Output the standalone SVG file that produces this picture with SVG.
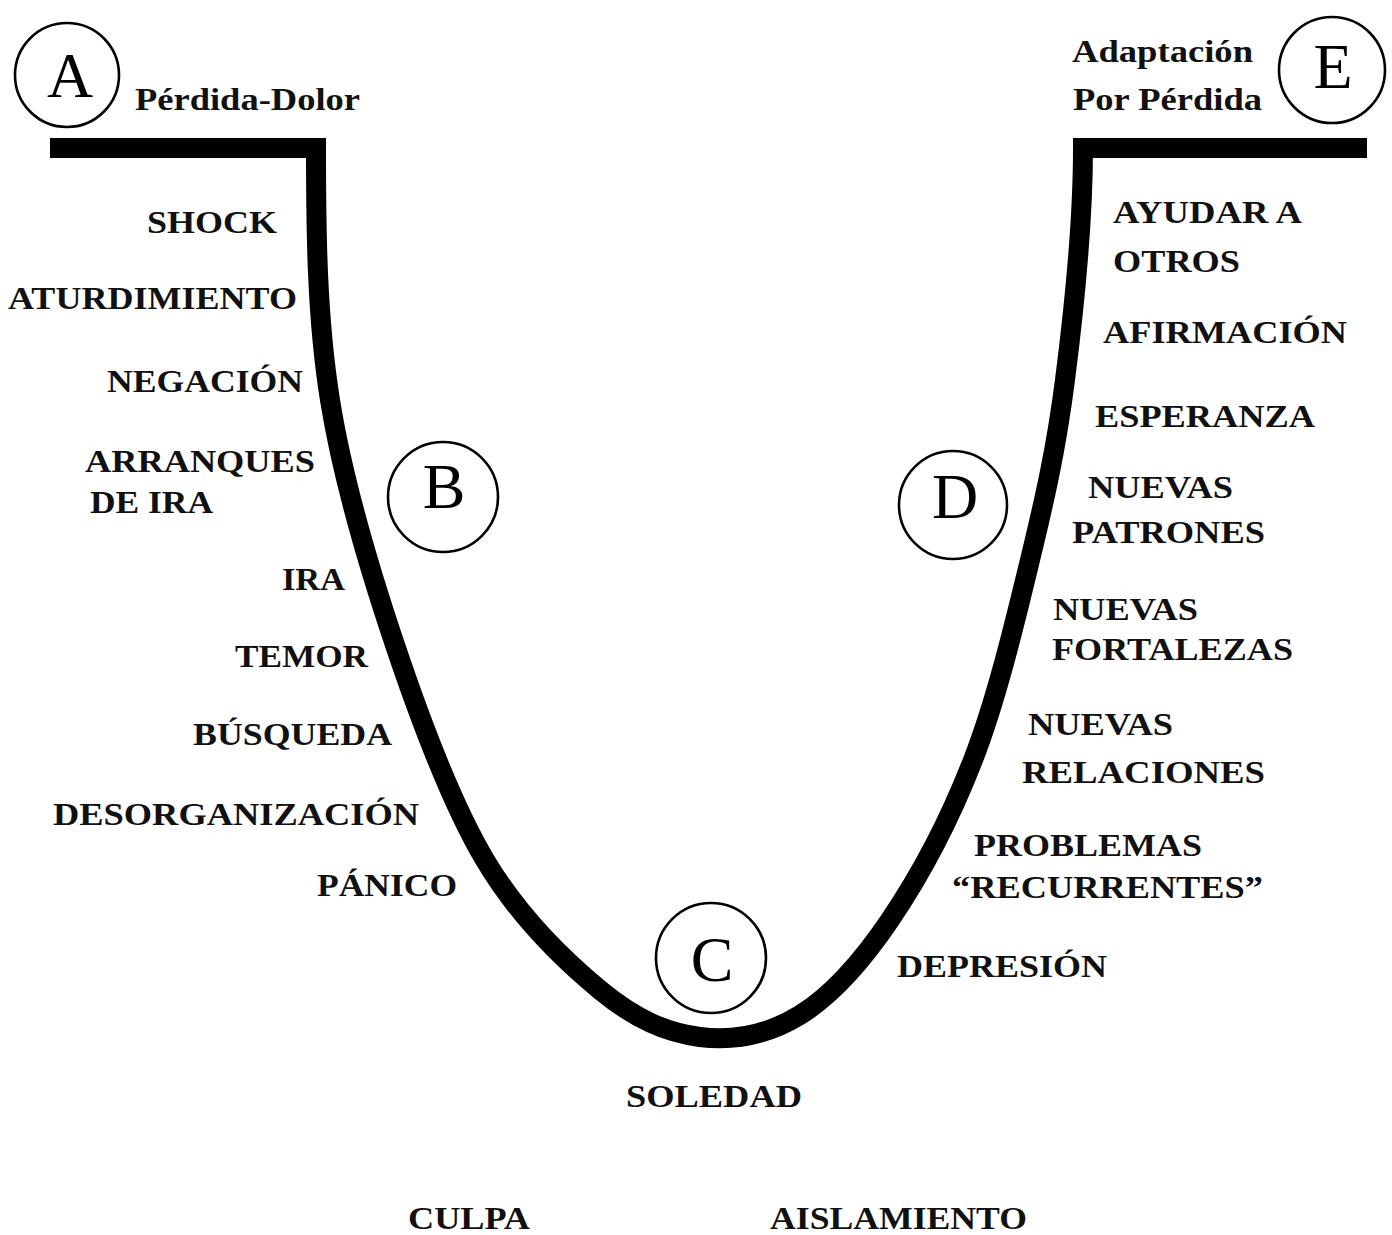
<svg xmlns="http://www.w3.org/2000/svg" width="1392" height="1235" viewBox="0 0 1392 1235">
<style>
.bg{fill:#fff}
.curve{fill:none;stroke:#000;stroke-width:20;stroke-linejoin:miter;stroke-linecap:butt}
.ring{fill:#fff;stroke:#000;stroke-width:2.6}
.letter{font-family:"Liberation Serif","Times New Roman",serif;font-size:64px;fill:#000;text-anchor:middle}
.lbl{font-family:"Liberation Serif","Times New Roman",serif;font-weight:bold;font-size:31px;fill:#111}
.sub{font-family:"Liberation Serif","Times New Roman",serif;font-weight:bold;font-size:32px;fill:#111}
</style>
<rect class="bg" x="0" y="0" width="1392" height="1235"/>
<g id="connectors">
<path class="curve" d="M50,148 H316 V148 C316,231.3 316.8,317.2 330,400 C343.2,482.8 369.2,568.3 395,645 C420.8,721.7 450.8,802.5 485,860 C519.2,917.5 564.2,960.5 600,990 C635.8,1019.5 666.7,1032.8 700,1037 C733.3,1041.2 768.3,1034.5 800,1015 C831.7,995.5 861.2,962.5 890,920 C918.8,877.5 949.7,820 973,760 C996.3,700 1014.7,623.3 1030,560 C1045.3,496.7 1056.2,448.7 1065,380 C1073.8,311.3 1083,225.3 1083,148 H1367"/>
</g>
<g id="node-A">
<circle class="ring" cx="67" cy="75" r="52"/>
<text class="letter" x="70" y="97" font-size="66">A</text>
<text class="sub" x="135" y="110" textLength="225" lengthAdjust="spacingAndGlyphs">Pérdida-Dolor</text>
</g>
<g id="node-E">
<circle class="ring" cx="1332" cy="70" r="53"/>
<text class="letter" x="1333" y="88" font-size="68">E</text>
<text class="sub" x="1072" y="62" textLength="181" lengthAdjust="spacingAndGlyphs">Adaptación</text>
<text class="sub" x="1073" y="110" textLength="189" lengthAdjust="spacingAndGlyphs">Por Pérdida</text>
</g>
<g id="node-B">
<circle class="ring" cx="443" cy="497" r="55"/>
<text class="letter" x="444" y="508">B</text>
</g>
<g id="node-C">
<circle class="ring" cx="711" cy="958" r="55"/>
<text class="letter" x="712" y="981">C</text>
</g>
<g id="node-D">
<circle class="ring" cx="953" cy="505" r="54"/>
<text class="letter" x="955" y="518">D</text>
</g>
<g id="labels-left">
<text class="lbl" x="147" y="233" textLength="130" lengthAdjust="spacingAndGlyphs">SHOCK</text>
<text class="lbl" x="8" y="309" textLength="289" lengthAdjust="spacingAndGlyphs">ATURDIMIENTO</text>
<text class="lbl" x="107" y="392" textLength="196" lengthAdjust="spacingAndGlyphs">NEGACIÓN</text>
<text class="lbl" x="85" y="472" textLength="230" lengthAdjust="spacingAndGlyphs">ARRANQUES</text>
<text class="lbl" x="90" y="513" textLength="123" lengthAdjust="spacingAndGlyphs">DE IRA</text>
<text class="lbl" x="282" y="590" textLength="63" lengthAdjust="spacingAndGlyphs">IRA</text>
<text class="lbl" x="235" y="667" textLength="133" lengthAdjust="spacingAndGlyphs">TEMOR</text>
<text class="lbl" x="193" y="745" textLength="199" lengthAdjust="spacingAndGlyphs">BÚSQUEDA</text>
<text class="lbl" x="53" y="825" textLength="366" lengthAdjust="spacingAndGlyphs">DESORGANIZACIÓN</text>
<text class="lbl" x="317" y="896" textLength="140" lengthAdjust="spacingAndGlyphs">PÁNICO</text>
</g>
<g id="labels-right">
<text class="lbl" x="1113" y="223" textLength="189" lengthAdjust="spacingAndGlyphs">AYUDAR A</text>
<text class="lbl" x="1113" y="272" textLength="127" lengthAdjust="spacingAndGlyphs">OTROS</text>
<text class="lbl" x="1103" y="343" textLength="244" lengthAdjust="spacingAndGlyphs">AFIRMACIÓN</text>
<text class="lbl" x="1095" y="427" textLength="220" lengthAdjust="spacingAndGlyphs">ESPERANZA</text>
<text class="lbl" x="1088" y="498" textLength="145" lengthAdjust="spacingAndGlyphs">NUEVAS</text>
<text class="lbl" x="1072" y="543" textLength="193" lengthAdjust="spacingAndGlyphs">PATRONES</text>
<text class="lbl" x="1053" y="620" textLength="145" lengthAdjust="spacingAndGlyphs">NUEVAS</text>
<text class="lbl" x="1052" y="660" textLength="241" lengthAdjust="spacingAndGlyphs">FORTALEZAS</text>
<text class="lbl" x="1028" y="735" textLength="145" lengthAdjust="spacingAndGlyphs">NUEVAS</text>
<text class="lbl" x="1022" y="783" textLength="243" lengthAdjust="spacingAndGlyphs">RELACIONES</text>
<text class="lbl" x="974" y="856" textLength="228" lengthAdjust="spacingAndGlyphs">PROBLEMAS</text>
<text class="lbl" x="952" y="898" textLength="311" lengthAdjust="spacingAndGlyphs">“RECURRENTES”</text>
<text class="lbl" x="897" y="977" textLength="210" lengthAdjust="spacingAndGlyphs">DEPRESIÓN</text>
</g>
<g id="labels-bottom">
<text class="lbl" x="626" y="1107" textLength="176" lengthAdjust="spacingAndGlyphs">SOLEDAD</text>
<text class="lbl" x="408" y="1229" textLength="122" lengthAdjust="spacingAndGlyphs">CULPA</text>
<text class="lbl" x="770" y="1229" textLength="257" lengthAdjust="spacingAndGlyphs">AISLAMIENTO</text>
</g>
</svg>
